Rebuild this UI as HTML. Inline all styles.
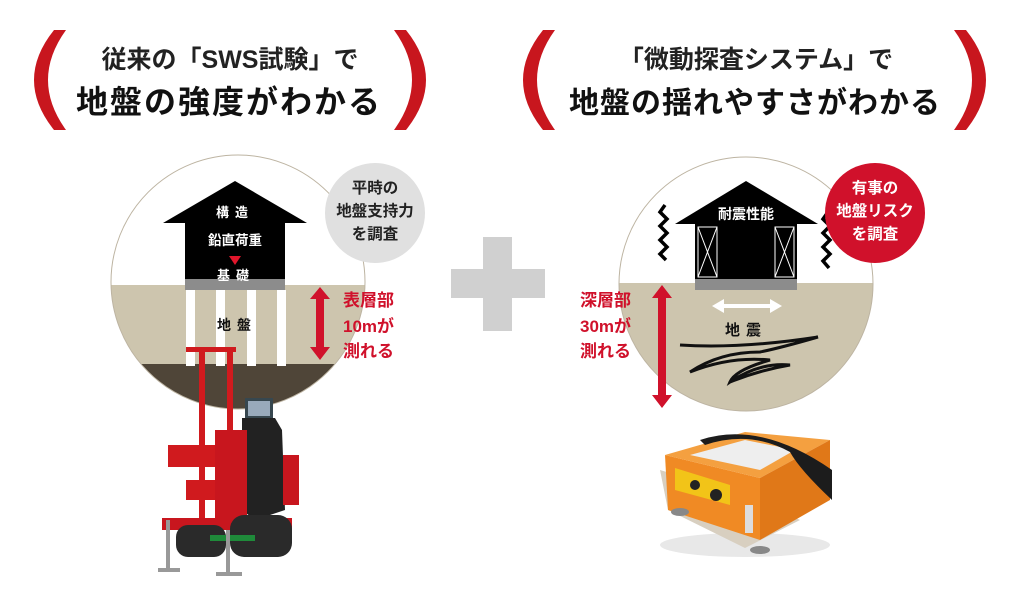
<!DOCTYPE html>
<html><head><meta charset="utf-8"><style>
html,body{margin:0;padding:0;background:#fff;}
body{width:1024px;height:611px;overflow:hidden;position:relative;font-family:"Liberation Sans","Noto Sans CJK JP",sans-serif;}
svg text{font-family:"Liberation Sans","Noto Sans CJK JP",sans-serif;font-weight:bold;}
</style></head><body>
<svg width="1024" height="611" viewBox="0 0 1024 611" xmlns="http://www.w3.org/2000/svg">
<defs>
<clipPath id="cl"><circle cx="238" cy="282" r="127"/></clipPath>
<clipPath id="cr"><circle cx="746" cy="284" r="127"/></clipPath>
</defs>
<!-- brackets -->
<path d="M66,30 Q30,80 66,130 L54,130 Q14,80 54,30 Z" fill="#c8161e"/>
<path d="M394,30 Q430,80 394,130 L406,130 Q446,80 406,30 Z" fill="#c8161e"/>
<path d="M555,30 Q519,80 555,130 L543,130 Q503,80 543,30 Z" fill="#c8161e"/>
<path d="M954,30 Q990,80 954,130 L966,130 Q1006,80 966,30 Z" fill="#c8161e"/>
<!-- headers -->
<text x="230" y="68" font-size="25" text-anchor="middle" fill="#222" font-weight="normal">従来の「SWS試験」で</text>
<text x="229" y="113" font-size="32" text-anchor="middle" fill="#111" letter-spacing="2">地盤の強度がわかる</text>
<text x="756" y="68" font-size="25" text-anchor="middle" fill="#222" font-weight="normal">「微動探査システム」で</text>
<text x="755" y="113" font-size="30" text-anchor="middle" fill="#111" letter-spacing="1">地盤の揺れやすさがわかる</text>

<!-- left circle -->
<g clip-path="url(#cl)">
<rect x="100" y="150" width="280" height="140" fill="#fff"/>
<rect x="100" y="285" width="280" height="80" fill="#cdc5ae"/>
<rect x="100" y="364" width="280" height="60" fill="#4f4538"/>
<rect x="186" y="290" width="9" height="76" fill="#fff"/>
<rect x="216" y="290" width="9" height="76" fill="#fff"/>
<rect x="247" y="290" width="9" height="76" fill="#fff"/>
<rect x="277" y="290" width="9" height="76" fill="#fff"/>
</g>
<circle cx="238" cy="282" r="127" fill="none" stroke="#bdb4a2" stroke-width="1"/>
<path d="M163,223 L235,181 L307,223 L285,223 L285,283 L185,283 L185,223 Z" fill="#000"/>
<rect x="185" y="279" width="100" height="11" fill="#8c8c8c"/>
<text x="235" y="217" font-size="13" fill="#fff" text-anchor="middle" letter-spacing="6">構造</text>
<text x="235" y="245" font-size="13.5" fill="#fff" text-anchor="middle">鉛直荷重</text>
<path d="M229,256 L241,256 L235,265 Z" fill="#e0162b"/>
<text x="236" y="280" font-size="13" fill="#fff" text-anchor="middle" letter-spacing="6">基礎</text>
<text x="237" y="330" font-size="14" fill="#111" text-anchor="middle" letter-spacing="6">地盤</text>
<circle cx="375" cy="213" r="50" fill="#e0e0e0"/>
<text x="375" y="193" font-size="15.5" fill="#222" text-anchor="middle">平時の</text>
<text x="375" y="216" font-size="15.5" fill="#222" text-anchor="middle">地盤支持力</text>
<text x="375" y="239" font-size="15.5" fill="#222" text-anchor="middle">を調査</text>
<!-- red arrow left -->
<path d="M320,287 L330,299 L324,299 L324,347 L330,347 L320,360 L310,347 L316,347 L316,299 L310,299 Z" fill="#d0112b"/>
<text x="343" y="306" font-size="17" fill="#d0112b">表層部</text>
<text x="343" y="332" font-size="17" fill="#d0112b">10mが</text>
<text x="343" y="357" font-size="17" fill="#d0112b">測れる</text>

<!-- machine -->
<g>
<rect x="186" y="347" width="50" height="5" fill="#d01a1e"/>
<rect x="199" y="350" width="6" height="190" fill="#d01a1e"/>
<rect x="227" y="350" width="6" height="190" fill="#d01a1e"/>
<rect x="245" y="398" width="28" height="22" fill="#37474f"/>
<rect x="248" y="401" width="22" height="15" fill="#9ab"/>
<path d="M242,418 L275,418 L282,430 L285,510 L255,520 L242,510 Z" fill="#222"/>
<rect x="168" y="445" width="52" height="22" fill="#d01a1e"/>
<rect x="186" y="480" width="45" height="20" fill="#d01a1e"/>
<rect x="215" y="430" width="32" height="90" fill="#c8161e"/>
<rect x="283" y="455" width="16" height="50" fill="#c8161e"/>
<rect x="162" y="518" width="130" height="12" fill="#c8161e"/>
<rect x="176" y="525" width="50" height="32" rx="12" fill="#2a2a2a"/>
<rect x="230" y="515" width="62" height="42" rx="14" fill="#2a2a2a"/>
<rect x="210" y="535" width="45" height="6" fill="#1f8a3a"/>
<rect x="166" y="520" width="4" height="50" fill="#999"/>
<rect x="158" y="568" width="22" height="4" fill="#999"/>
<rect x="226" y="530" width="4" height="44" fill="#999"/>
<rect x="216" y="572" width="26" height="4" fill="#999"/>
</g>

<!-- plus -->
<rect x="483" y="237" width="29" height="94" fill="#d0d0d0"/>
<rect x="451" y="269" width="94" height="29" fill="#d0d0d0"/>

<!-- right circle -->
<g clip-path="url(#cr)">
<rect x="610" y="150" width="280" height="134" fill="#fff"/>
<rect x="610" y="283" width="280" height="140" fill="#cdc5ae"/>
</g>
<circle cx="746" cy="284" r="127" fill="none" stroke="#bdb4a2" stroke-width="1"/>
<path d="M675,224 L746,181 L818,224 Z" fill="#000"/>
<rect x="695" y="224" width="102" height="66" fill="#000"/>
<rect x="695" y="279" width="102" height="11" fill="#8c8c8c"/>
<rect x="698" y="227" width="19" height="50" fill="none" stroke="#fff" stroke-width="1"/>
<path d="M698,227 L717,277 M717,227 L698,277" stroke="#fff" stroke-width="1"/>
<rect x="775" y="227" width="19" height="50" fill="none" stroke="#fff" stroke-width="1"/>
<path d="M775,227 L794,277 M794,227 L775,277" stroke="#fff" stroke-width="1"/>
<text x="746" y="219" font-size="14" fill="#fff" text-anchor="middle">耐震性能</text>
<path d="M665,205 L660,212 L667,219 L660,226 L667,233 L660,240 L667,247 L660,254 L666,260" fill="none" stroke="#000" stroke-width="3.5"/>
<path d="M828,212 L823,219 L830,226 L823,233 L830,240 L823,247 L830,254 L823,261 L829,268" fill="none" stroke="#000" stroke-width="3.5"/>
<path d="M712,306 L724,299 L724,304 L770,304 L770,299 L782,306 L770,313 L770,308 L724,308 L724,313 Z" fill="#fff"/>
<text x="746" y="335" font-size="15" fill="#111" text-anchor="middle" letter-spacing="6">地震</text>
<path d="M680,345 Q740,349 818,337 Q780,348 760,352 Q720,352 690,372 Q730,356 770,360 Q735,370 730,382 Q760,362 790,365 Q760,370 730,382" fill="none" stroke="#111" stroke-width="3"/>
<circle cx="875" cy="213" r="50" fill="#d0112b"/>
<text x="875" y="193" font-size="15.5" fill="#fff" text-anchor="middle">有事の</text>
<text x="875" y="216" font-size="15.5" fill="#fff" text-anchor="middle">地盤リスク</text>
<text x="875" y="239" font-size="15.5" fill="#fff" text-anchor="middle">を調査</text>
<!-- red arrow right (long) -->
<path d="M662,285 L672,298 L666,298 L666,395 L672,395 L662,408 L652,395 L658,395 L658,298 L652,298 Z" fill="#d0112b"/>
<text x="580" y="306" font-size="17" fill="#d0112b">深層部</text>
<text x="580" y="332" font-size="17" fill="#d0112b">30mが</text>
<text x="580" y="357" font-size="17" fill="#d0112b">測れる</text>

<!-- orange device -->
<g>
<ellipse cx="745" cy="545" rx="85" ry="12" fill="#e8e8e8"/>
<path d="M660,470 L760,500 L800,520 L745,548 L668,510 Z" fill="#d8cfc0"/>
<path d="M665,455 L760,478 L760,540 L668,510 Z" fill="#f08a24"/>
<path d="M665,455 L745,432 L830,440 L760,478 Z" fill="#f4a040"/>
<path d="M690,455 L745,440 L795,450 L760,470 Z" fill="#eeeeee"/>
<path d="M760,478 L830,440 L830,500 L760,540 Z" fill="#e07818"/>
<path d="M675,468 L730,485 L730,505 L675,490 Z" fill="#f2c418"/>
<path d="M700,440 Q760,420 832,470 L832,500 Q800,470 790,452 Q750,430 705,445 Z" fill="#1c1c1c"/>
<circle cx="695" cy="485" r="5" fill="#222"/>
<circle cx="716" cy="495" r="6" fill="#222"/>
<rect x="745" y="505" width="8" height="28" fill="#ddd"/>
<ellipse cx="680" cy="512" rx="9" ry="4" fill="#888"/>
<ellipse cx="760" cy="550" rx="10" ry="4" fill="#888"/>
</g>
</svg>
</body></html>
